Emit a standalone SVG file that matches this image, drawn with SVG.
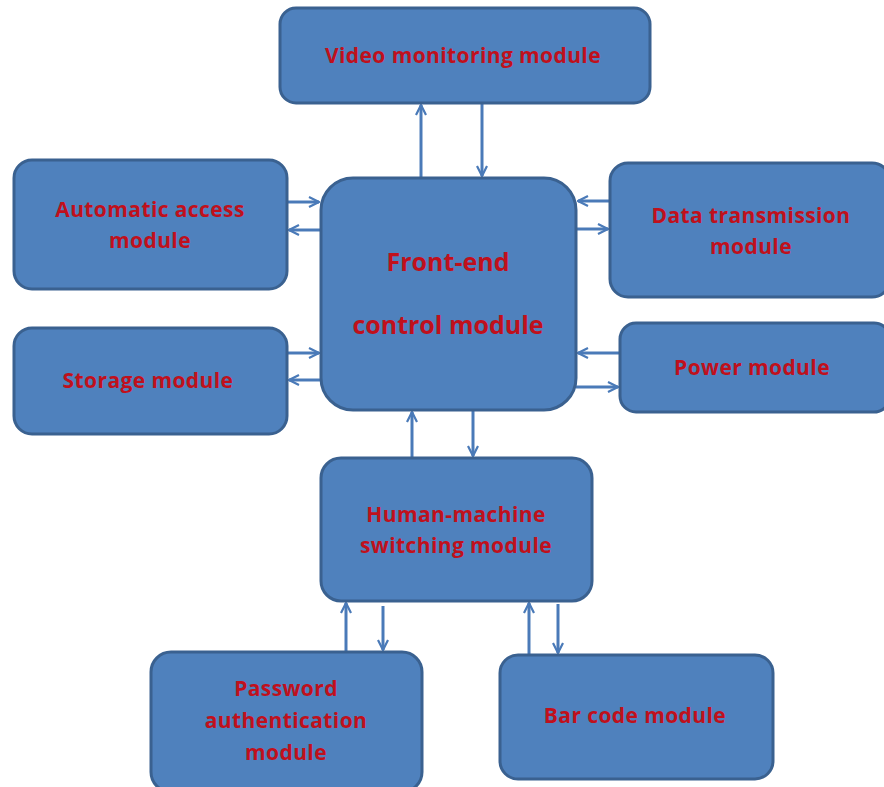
<svg xmlns="http://www.w3.org/2000/svg" width="884" height="787" viewBox="0 0 884 787">
  <style>
    .box { fill: #4f81bd; stroke: #3a6190; stroke-width: 3; }
    .lbl { font-family: "Open Sans", "Liberation Sans", sans-serif; font-weight: bold; font-size: 21px; letter-spacing: 0.4px; fill: #c0101c; text-anchor: middle; }
    .big { font-size: 25px; letter-spacing: 0; }
    .link { stroke: #4a7ab8; stroke-width: 3; fill: none; marker-end: url(#arrow); }
  </style>
  <defs>
    <marker id="arrow" viewBox="0 0 12 12" refX="11" refY="6" markerWidth="12" markerHeight="12" markerUnits="userSpaceOnUse" orient="auto">
      <path d="M1,1 L11,6 L1,11" fill="none" stroke="#4a7ab8" stroke-width="2.2"/>
    </marker>
  </defs>
  <rect width="884" height="787" fill="#ffffff"/>

  <g id="connectors">
    <!-- video -->
    <line class="link" x1="421" y1="178" x2="421" y2="105"/>
    <line class="link" x1="482" y1="103" x2="482" y2="176"/>
    <!-- automatic access -->
    <line class="link" x1="288" y1="202" x2="319" y2="202"/>
    <line class="link" x1="321" y1="230" x2="289" y2="230"/>
    <!-- storage -->
    <line class="link" x1="288" y1="353" x2="319" y2="353"/>
    <line class="link" x1="321" y1="380" x2="289" y2="380"/>
    <!-- data transmission -->
    <line class="link" x1="610" y1="201" x2="578" y2="201"/>
    <line class="link" x1="576" y1="229" x2="608" y2="229"/>
    <!-- power -->
    <line class="link" x1="620" y1="353" x2="578" y2="353"/>
    <line class="link" x1="576" y1="387" x2="618" y2="387"/>
    <!-- human-machine -->
    <line class="link" x1="412" y1="458" x2="412" y2="412"/>
    <line class="link" x1="473" y1="411" x2="473" y2="456"/>
    <!-- password -->
    <line class="link" x1="346" y1="652" x2="346" y2="603"/>
    <line class="link" x1="383" y1="606" x2="383" y2="650"/>
    <!-- bar code -->
    <line class="link" x1="529" y1="655" x2="529" y2="603"/>
    <line class="link" x1="558" y1="604" x2="558" y2="653"/>
  </g>

  <g id="video">
    <rect class="box" x="280" y="8" width="370" height="95" rx="16"/>
    <text class="lbl" x="463" y="63">Video monitoring module</text>
  </g>
  <g id="frontend">
    <rect class="box" x="321" y="178" width="255" height="232" rx="32"/>
    <text class="lbl big" x="448" y="271">Front-end</text>
    <text class="lbl big" x="448" y="334">control module</text>
  </g>
  <g id="automatic">
    <rect class="box" x="14" y="160" width="273" height="129" rx="18"/>
    <text class="lbl" x="150" y="217">Automatic access</text>
    <text class="lbl" x="150" y="248">module</text>
  </g>
  <g id="storage">
    <rect class="box" x="14" y="328" width="273" height="106" rx="18"/>
    <text class="lbl" x="148" y="388">Storage module</text>
  </g>
  <g id="data">
    <rect class="box" x="610" y="163" width="280" height="134" rx="18"/>
    <text class="lbl" x="751" y="223">Data transmission</text>
    <text class="lbl" x="751" y="254">module</text>
  </g>
  <g id="power">
    <rect class="box" x="620" y="323" width="270" height="89" rx="16"/>
    <text class="lbl" x="752" y="375">Power module</text>
  </g>
  <g id="human">
    <rect class="box" x="321" y="458" width="271" height="143" rx="20"/>
    <text class="lbl" x="456" y="522">Human-machine</text>
    <text class="lbl" x="456" y="553">switching module</text>
  </g>
  <g id="password">
    <rect class="box" x="151" y="652" width="271" height="140" rx="20"/>
    <text class="lbl" x="286" y="696">Password</text>
    <text class="lbl" x="286" y="728">authentication</text>
    <text class="lbl" x="286" y="760">module</text>
  </g>
  <g id="barcode">
    <rect class="box" x="500" y="655" width="273" height="124" rx="18"/>
    <text class="lbl" x="635" y="723">Bar code module</text>
  </g>
</svg>
